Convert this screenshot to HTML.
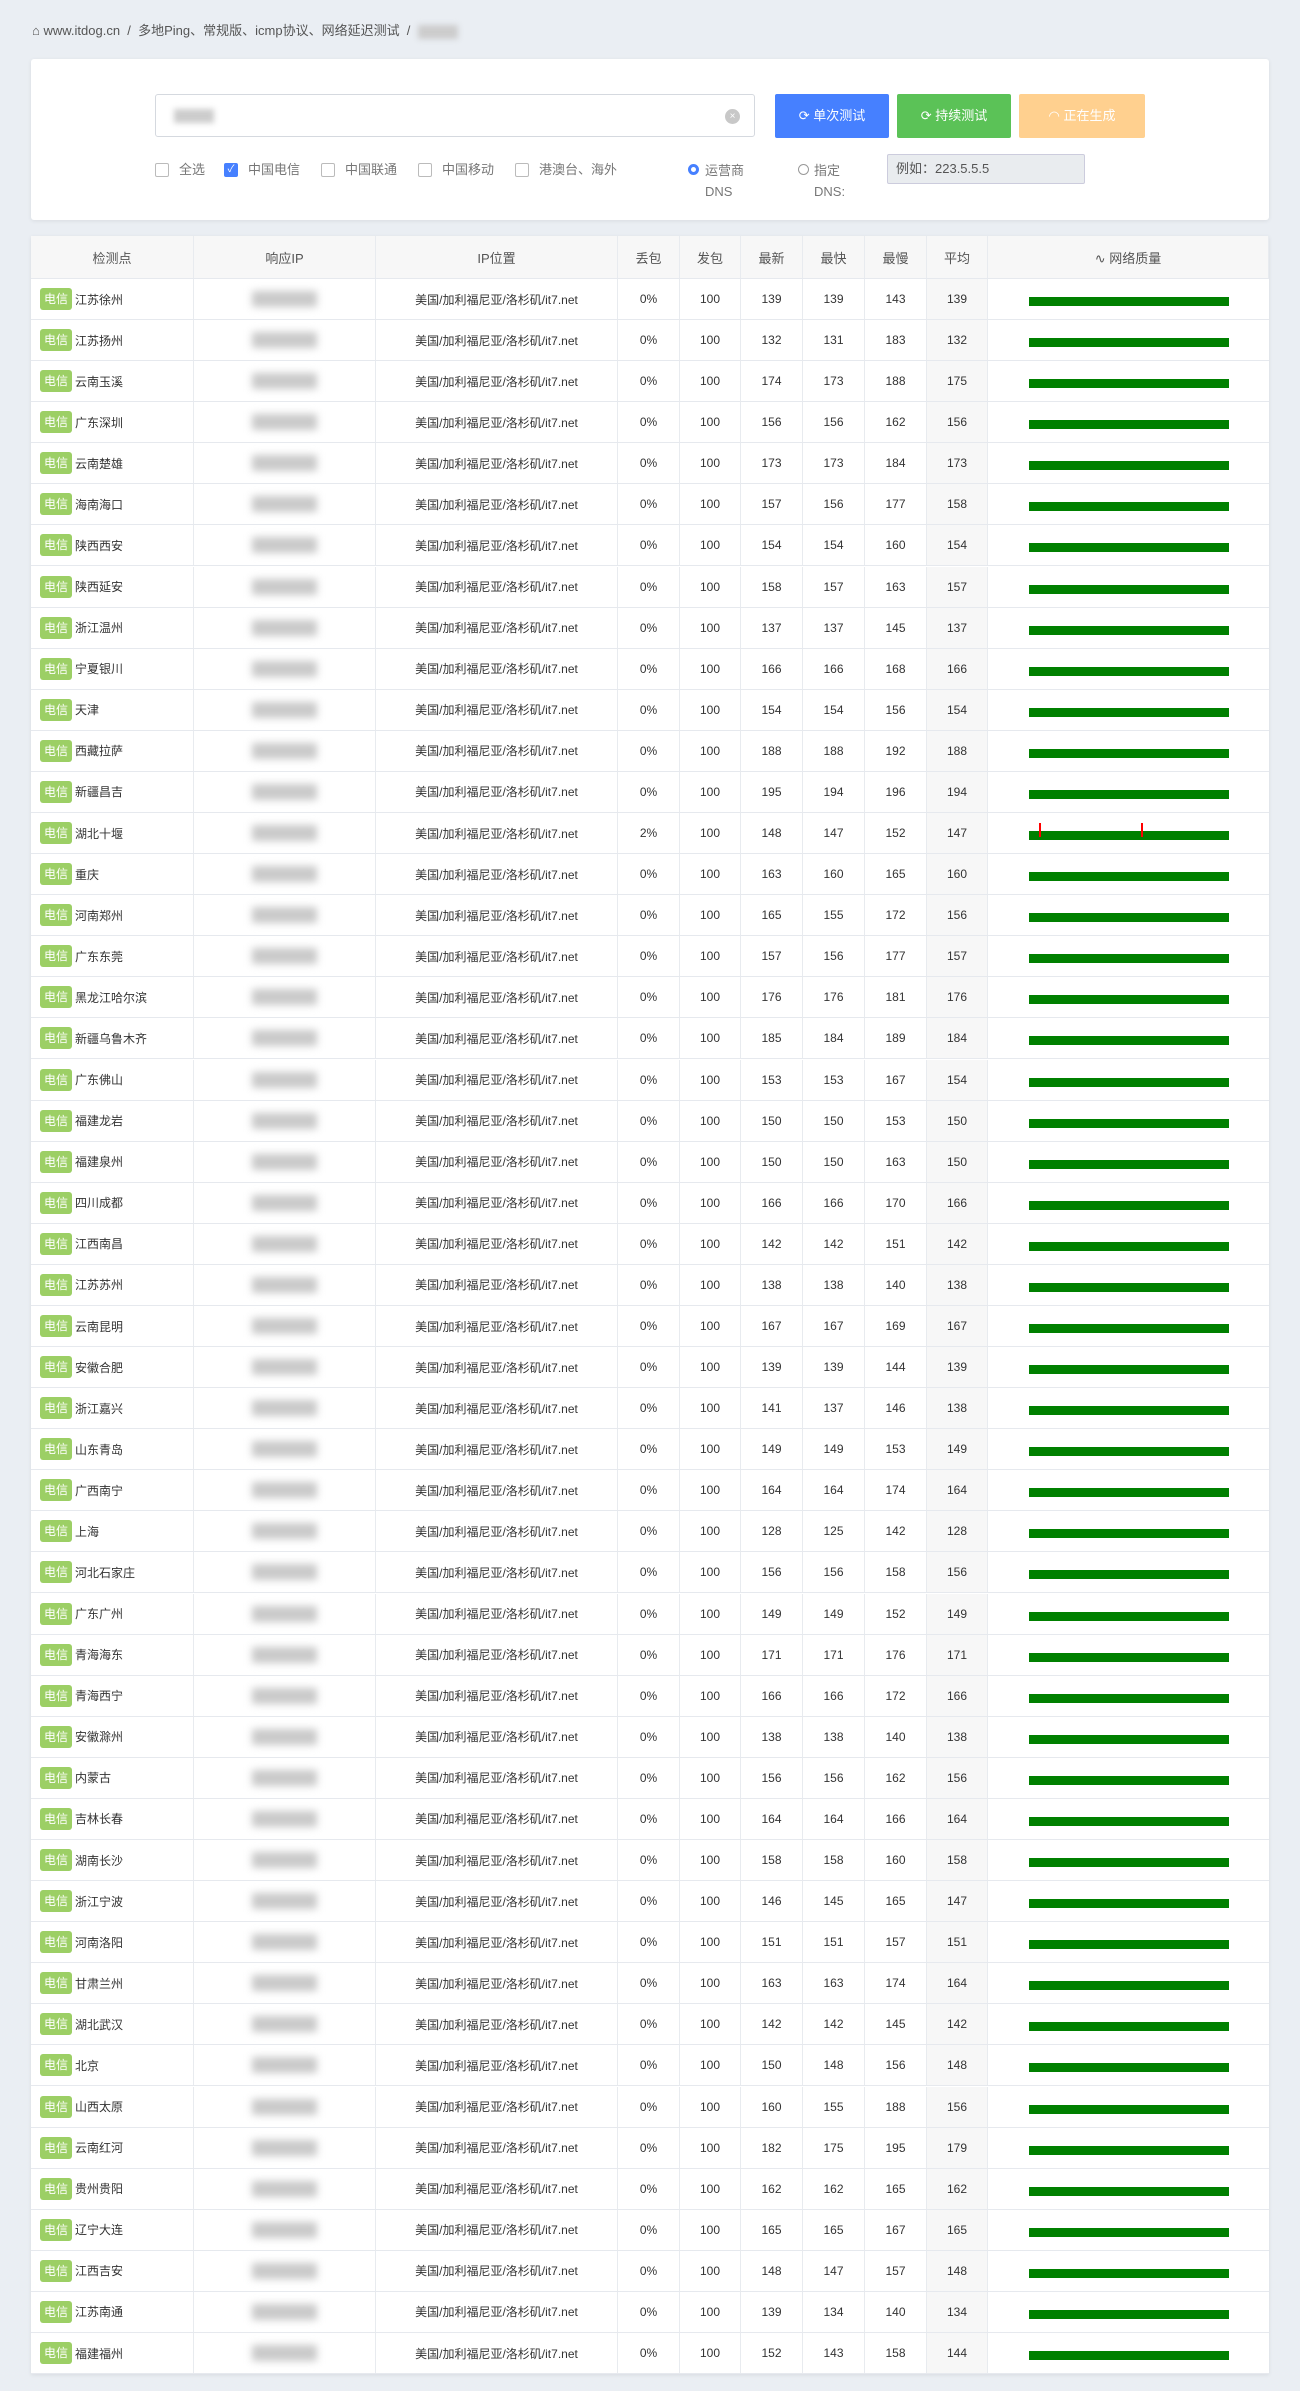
<!DOCTYPE html>
<html><head><meta charset="utf-8"><style>
*{box-sizing:border-box;margin:0;padding:0}
body{width:1300px;height:2391px;background:#eaeef3;font-family:"Liberation Sans","Noto Sans CJK SC",sans-serif;color:#333;position:relative;overflow:hidden}
.bc{position:absolute;left:32px;top:20px;font-size:13px;color:#555}
.bc .blur{display:inline-block;width:40px;height:14px;background:#ccc;filter:blur(3px);vertical-align:middle}
.card{position:absolute;left:31px;top:59px;width:1238px;height:161px;background:#fff;border-radius:3px;box-shadow:0 1px 4px rgba(0,0,0,.08)}
.inp{position:absolute;left:124px;top:35px;width:600px;height:43px;border:1px solid #d5d9df;border-radius:3px}
.inp .b{position:absolute;left:18px;top:14px;width:40px;height:14px;background:#ccc;filter:blur(3px)}
.inp .x{position:absolute;right:14px;top:14px;width:15px;height:15px;border-radius:50%;background:#c8c8c8;color:#fff;font-size:10px;text-align:center;line-height:15px}
.btn{position:absolute;top:35px;height:44px;color:#fff;font-size:13px;line-height:44px;text-align:center;border-radius:2px}
.opt{position:absolute;top:101px;font-size:13px;color:#777;line-height:20px}
.cb{position:absolute;width:14px;height:14px;border:1px solid #bbb;border-radius:2px;top:104px;background:#fff}
.tbl{position:absolute;left:31px;top:236px;width:1238px;height:2138px;background:#fff;box-shadow:0 1px 4px rgba(0,0,0,.08)}
.row{position:absolute;left:0;width:1238px;height:41px;border-bottom:1px solid #e6e9ee;font-size:12px}
.hd{background:#f7f7f7;height:43px;font-size:13px;color:#555}
.c{position:absolute;top:0;height:100%;display:flex;align-items:center;justify-content:center;border-right:1px solid #e8ebef}
.badge{background:#9ccf65;color:#fff;border-radius:3px;padding:0 4px;height:22px;line-height:22px;margin-right:3px;font-size:12px}
.ipb{width:65px;height:16px;background:#c9c9c9;filter:blur(4px)}
.bar{position:absolute;left:998px;width:200px;height:9px;background:#008000}
</style></head><body>
<div class="bc">⌂ www.itdog.cn &nbsp;/&nbsp; 多地Ping、常规版、icmp协议、网络延迟测试 &nbsp;/&nbsp; <span class="blur"></span></div>
<div class="card">
<div class="inp"><div class="b"></div><div class="x">×</div></div>
<div class="btn" style="left:744px;width:114px;background:#4680ff">⟳ 单次测试</div>
<div class="btn" style="left:866px;width:114px;background:#5bc257">⟳ 持续测试</div>
<div class="btn" style="left:988px;width:126px;background:#ffd08f">◠ 正在生成</div>
<div class="cb" style="left:124px"></div><div class="opt" style="left:148px">全选</div>
<div class="cb" style="left:193px;background:#4680ff;border-color:#4680ff;color:#fff;font-size:10px;line-height:12px;text-align:center">✓</div><div class="opt" style="left:217px">中国电信</div>
<div class="cb" style="left:290px"></div><div class="opt" style="left:314px">中国联通</div>
<div class="cb" style="left:387px"></div><div class="opt" style="left:411px">中国移动</div>
<div class="cb" style="left:484px"></div><div class="opt" style="left:508px">港澳台、海外</div>
<div style="position:absolute;left:657px;top:105px;width:11px;height:11px;border-radius:50%;border:3px solid #4680ff"></div>
<div class="opt" style="left:674px;line-height:21px">运营商<br>DNS</div>
<div style="position:absolute;left:767px;top:105px;width:11px;height:11px;border-radius:50%;border:1px solid #999"></div>
<div class="opt" style="left:783px;line-height:21px">指定<br>DNS:</div>
<div style="position:absolute;left:856px;top:95px;width:198px;height:30px;background:#e9ecef;border:1px solid #ccd;border-radius:2px;font-size:13px;color:#555;line-height:28px;padding-left:8px">例如：223.5.5.5</div>
</div>
<div class="tbl" id="t"></div>
<script>
var d=`江苏徐州 0 139 139 143 139|江苏扬州 0 132 131 183 132|云南玉溪 0 174 173 188 175|广东深圳 0 156 156 162 156|云南楚雄 0 173 173 184 173|海南海口 0 157 156 177 158|陕西西安 0 154 154 160 154|陕西延安 0 158 157 163 157|浙江温州 0 137 137 145 137|宁夏银川 0 166 166 168 166|天津 0 154 154 156 154|西藏拉萨 0 188 188 192 188|新疆昌吉 0 195 194 196 194|湖北十堰 2 148 147 152 147|重庆 0 163 160 165 160|河南郑州 0 165 155 172 156|广东东莞 0 157 156 177 157|黑龙江哈尔滨 0 176 176 181 176|新疆乌鲁木齐 0 185 184 189 184|广东佛山 0 153 153 167 154|福建龙岩 0 150 150 153 150|福建泉州 0 150 150 163 150|四川成都 0 166 166 170 166|江西南昌 0 142 142 151 142|江苏苏州 0 138 138 140 138|云南昆明 0 167 167 169 167|安徽合肥 0 139 139 144 139|浙江嘉兴 0 141 137 146 138|山东青岛 0 149 149 153 149|广西南宁 0 164 164 174 164|上海 0 128 125 142 128|河北石家庄 0 156 156 158 156|广东广州 0 149 149 152 149|青海海东 0 171 171 176 171|青海西宁 0 166 166 172 166|安徽滁州 0 138 138 140 138|内蒙古 0 156 156 162 156|吉林长春 0 164 164 166 164|湖南长沙 0 158 158 160 158|浙江宁波 0 146 145 165 147|河南洛阳 0 151 151 157 151|甘肃兰州 0 163 163 174 164|湖北武汉 0 142 142 145 142|北京 0 150 148 156 148|山西太原 0 160 155 188 156|云南红河 0 182 175 195 179|贵州贵阳 0 162 162 165 162|辽宁大连 0 165 165 167 165|江西吉安 0 148 147 157 148|江苏南通 0 139 134 140 134|福建福州 0 152 143 158 144`.split('|');
var cols=[[0,163],[163,182],[345,242],[587,62],[649,61],[710,62],[772,62],[834,62],[896,61],[957,281]];
var h='<div class="row hd" style="top:0">';
var hn=['检测点','响应IP','IP位置','丢包','发包','最新','最快','最慢','平均','∿ 网络质量'];
cols.forEach(function(c,i){h+='<div class="c" style="left:'+c[0]+'px;width:'+c[1]+'px">'+hn[i]+'</div>'});
h+='</div>';
d.forEach(function(r,k){var p=r.split(' ');var top=43+k*41.08;
h+='<div class="row" style="top:'+top+'px">';
var v=['','<div class="ipb"></div>','美国/加利福尼亚/洛杉矶/it7.net',p[1]+'%','100',p[2],p[3],p[4],p[5],''];
cols.forEach(function(c,i){var st='left:'+c[0]+'px;width:'+c[1]+'px;';if(i==0)st+='justify-content:flex-start;padding-left:9px;';if(i==8)st+='background:#f7f7f7;';if(i==9)st+='border-right:none;';
var t=i==0?'<span class="badge">电信</span>'+p[0]:v[i];h+='<div class="c" style="'+st+'">'+t+'</div>'});
h+='<div class="bar" style="top:18px"></div>';
if(p[1]=='2')h+='<div style="position:absolute;left:1008px;top:10px;width:2px;height:14px;background:red"></div><div style="position:absolute;left:1110px;top:10px;width:2px;height:14px;background:red"></div>';
h+='</div>'});
document.getElementById('t').innerHTML=h;
</script>
</body></html>
